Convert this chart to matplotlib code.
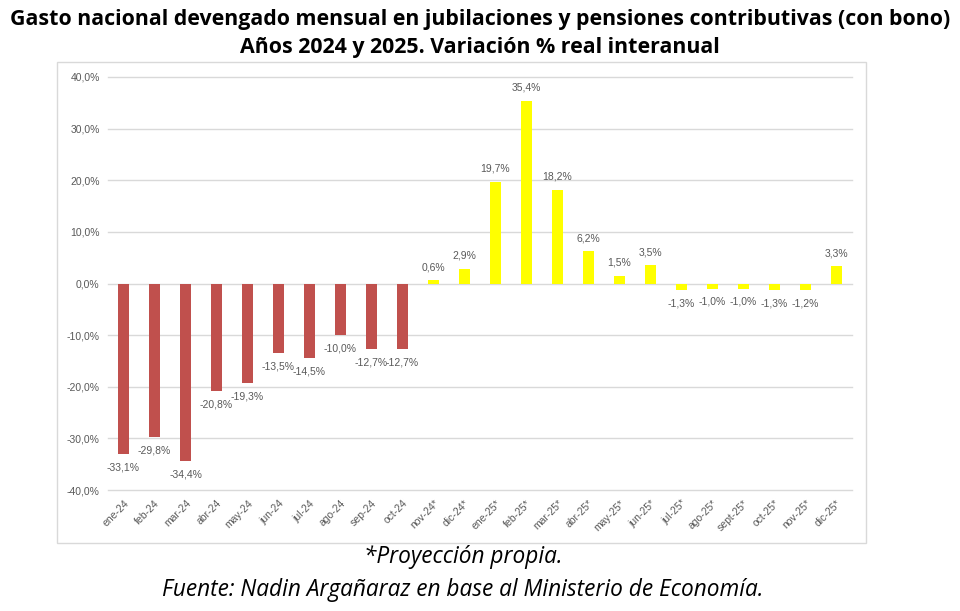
import matplotlib.pyplot as plt
from matplotlib.patches import Rectangle

# data
months = ["ene-24", "feb-24", "mar-24", "abr-24", "may-24", "jun-24", "jul-24", "ago-24",
          "sep-24", "oct-24", "nov-24*", "dic-24*", "ene-25*", "feb-25*", "mar-25*", "abr-25*",
          "may-25*", "jun-25*", "jul-25*", "ago-25*", "sept-25*", "oct-25*", "nov-25*", "dic-25*"]
values = [-33.1, -29.8, -34.4, -20.8, -19.3, -13.5, -14.5, -10.0, -12.7, -12.7,
          0.6, 2.9, 19.7, 35.4, 18.2, 6.2, 1.5, 3.5, -1.3, -1.0, -1.0, -1.3, -1.2, 3.3]
n_real = 10  # first 10 months are observed, rest are projections

RED = "#C0504D"
YELLOW = "#FFFF00"
GREY = "#595959"

def fmt(v):
    return f"{v:.1f}%".replace(".", ",")

fig = plt.figure(figsize=(9.6, 6.11), dpi=100)
fig.patch.set_facecolor("white")

# outer chart frame
fig.patches.append(Rectangle((57 / 960, 1 - 543 / 611), (866 - 57) / 960, (543 - 62) / 611,
                             transform=fig.transFigure, fill=False, edgecolor="#D9D9D9", lw=1))

ax = fig.add_axes([108 / 960, 1 - 490 / 611, 744 / 960, (490 - 77) / 611])
x = list(range(len(values)))
colors = [RED if i < n_real else YELLOW for i in x]
ax.bar(x, values, width=0.36, color=colors, zorder=3)

ax.set_xlim(-0.5, len(values) - 0.5)
ax.set_ylim(-40, 40)
yt = list(range(-40, 41, 10))
ax.set_yticks(yt)
ax.set_yticklabels([fmt(v) for v in yt], fontsize=7.5, color=GREY, family="Liberation Sans")
ax.set_xticks(x)
ax.set_xticklabels(months, rotation=45, ha="right", rotation_mode="anchor",
                   fontsize=7.5, color=GREY, family="Liberation Sans")
ax.tick_params(axis="both", length=0, pad=6)
ax.grid(axis="y", color="#D9D9D9", lw=1, zorder=0)
for gl in ax.get_ygridlines():
    gl.set_clip_on(False)
for s in ax.spines.values():
    s.set_visible(False)

for i, v in enumerate(values):
    off = 6 if v >= 0 else -6
    ax.annotate(fmt(v), (i, v), xytext=(0, off), textcoords="offset points",
                ha="center", va="bottom" if v >= 0 else "top",
                fontsize=7.5, color=GREY, family="Liberation Sans")

fig.text(0.5, 1 - 20 / 611, "Gasto nacional devengado mensual en jubilaciones y pensiones contributivas (con bono)",
         ha="center", va="center", fontsize=15.4, fontweight="bold", family="Open Sans")
fig.text(0.5, 1 - 48 / 611, "Años 2024 y 2025. Variación % real interanual",
         ha="center", va="center", fontsize=15.4, fontweight="bold", family="Open Sans")
fig.text(463 / 960, 1 - 557 / 611, "*Proyección propia.", ha="center", va="center",
         fontsize=16.3, style="italic", family="Open Sans")
fig.text(463 / 960, 1 - 590 / 611, "Fuente: Nadin Argañaraz en base al Ministerio de Economía.",
         ha="center", va="center", fontsize=16.3, style="italic", family="Open Sans")

fig.savefig("out.png", dpi=100)
